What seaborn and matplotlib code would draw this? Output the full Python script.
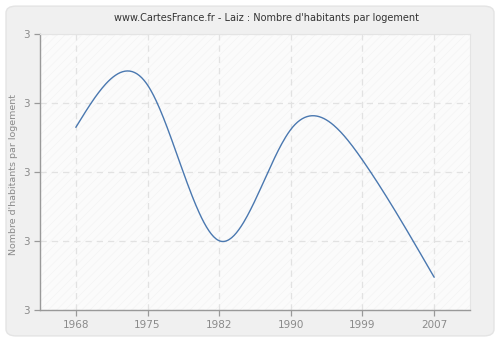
import numpy as np
import pandas as pd
import matplotlib
matplotlib.use("Agg")
import matplotlib.pyplot as plt
import seaborn as sns
from matplotlib.patches import FancyBboxPatch, Rectangle
from matplotlib.ticker import FixedLocator, FormatStrFormatter

years = ["1968", "1975", "1982", "1990", "1999", "2007"]
values = [3.130, 3.253, 2.801, 3.124, 3.035, 2.695]
y_ticks = [2.6, 2.8, 3.0, 3.2, 3.4]

title = "www.CartesFrance.fr - Laiz : Nombre d'habitants par logement"
ylabel = "Nombre d'habitants par logement"


def natural_spline(x, y, xs):
    x = np.asarray(x, float)
    y = np.asarray(y, float)
    n = len(x)
    h = np.diff(x)
    A = np.zeros((n, n))
    b = np.zeros(n)
    A[0, 0] = 1
    A[-1, -1] = 1
    for i in range(1, n - 1):
        A[i, i - 1] = h[i - 1]
        A[i, i] = 2 * (h[i - 1] + h[i])
        A[i, i + 1] = h[i]
        b[i] = 6 * ((y[i + 1] - y[i]) / h[i] - (y[i] - y[i - 1]) / h[i - 1])
    M = np.linalg.solve(A, b)
    out = np.empty_like(xs)
    for k, t in enumerate(xs):
        i = min(max(np.searchsorted(x, t) - 1, 0), n - 2)
        a = x[i + 1] - t
        c = t - x[i]
        out[k] = (M[i] * a ** 3 / (6 * h[i]) + M[i + 1] * c ** 3 / (6 * h[i])
                  + (y[i] / h[i] - M[i] * h[i] / 6) * a
                  + (y[i + 1] / h[i] - M[i + 1] * h[i] / 6) * c)
    return out


pos = np.arange(len(years))
xs = np.linspace(0, len(years) - 1, 300)
df = pd.DataFrame({"x": xs, "v": natural_spline(pos, values, xs)})

sns.set_theme(style="white")
plt.rcParams["font.family"] = ["DejaVu Sans"]
plt.rcParams["hatch.linewidth"] = 0.4

fig = plt.figure(figsize=(5, 3.4), dpi=100, facecolor="white")
bg = FancyBboxPatch((0.012, 0.012), 0.976, 0.97,
                    boxstyle="round,pad=0,rounding_size=0.02",
                    transform=fig.transFigure, facecolor="#f0f0f0",
                    edgecolor="#e4e4e4", linewidth=1)
bg.set_zorder(-10)
fig.patches.append(bg)

ax = fig.add_axes([0.08, 0.0882, 0.86, 0.811])
ax.set_zorder(5)
ax.set_facecolor("#fbfbfb")
ax.add_patch(Rectangle((0, 0), 1, 1, transform=ax.transAxes, facecolor="none",
                       edgecolor="#f2f2f2", hatch="////", linewidth=0, zorder=0))

sns.lineplot(data=df, x="x", y="v", ax=ax, color="#4a78b0", linewidth=1.0, zorder=3)

ax.set_xlim(-0.5, len(years) - 0.5)
ax.set_ylim(y_ticks[0], y_ticks[-1])
ax.set_xticks(pos)
ax.set_xticklabels(years)
ax.yaxis.set_major_locator(FixedLocator(y_ticks))
ax.yaxis.set_major_formatter(FormatStrFormatter("%.0f"))
ax.set_xlabel("")
ax.set_ylabel("")

ax.grid(True, color="#e2e2e2", linestyle=(0, (5, 4)), linewidth=0.9, zorder=1)
ax.set_axisbelow(True)

for s in ["top", "right"]:
    ax.spines[s].set_color("#e4e4e4")
    ax.spines[s].set_linewidth(0.8)
for s in ["left", "bottom"]:
    ax.spines[s].set_color("#999999")
    ax.spines[s].set_linewidth(1.0)

ax.tick_params(axis="both", which="major", direction="out", length=4, width=0.9,
               color="#999999", labelcolor="#8a8a8a", labelsize=7.5, pad=3,
               bottom=True, left=True)

fig.text(0.534, 0.947, title, ha="center", va="center", fontsize=7.0, color="#333333")
fig.text(0.027, 0.487, ylabel, ha="center", va="center", rotation=90,
         fontsize=6.8, color="#8a8a8a")

fig.savefig("out.png", dpi=100, facecolor=fig.get_facecolor())
